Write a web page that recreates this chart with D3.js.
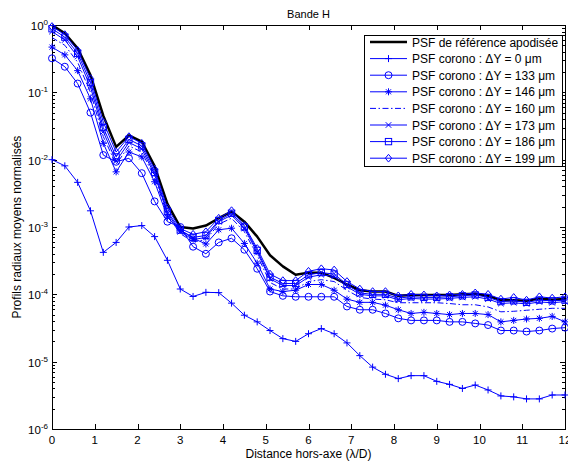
<!DOCTYPE html>
<html><head><meta charset="utf-8">
<script src="https://cdn.jsdelivr.net/npm/d3@7"></script>
<style>
body{margin:0;background:#fff;}
text{font-family:"Liberation Sans",Arial,sans-serif;}
</style></head>
<body><svg id="c" width="568" height="462"></svg>
<script>
const xs = [0,0.3,0.6,0.9,1.2,1.5,1.8,2.1,2.4,2.7,3.0,3.3,3.6,3.9,4.2,4.5,4.8,5.1,5.4,5.7,6.0,6.3,6.6,6.9,7.2,7.5,7.8,8.1,8.4,8.7,9.0,9.3,9.6,9.9,10.2,10.5,10.8,11.1,11.4,11.7,12.0];
const refApod = [1.0,0.75,0.45,0.18,0.045,0.0155,0.023,0.0185,0.008,0.0022,0.001,9.5e-4,1.05e-3,1.35e-3,1.7e-3,1.2e-3,7.2e-4,3.8e-4,2.6e-4,1.95e-4,2.1e-4,2.1e-4,1.75e-4,1.4e-4,1.15e-4,1.1e-4,1.1e-4,9.5e-5,9.8e-5,9.8e-5,9.8e-5,9.8e-5,1.0e-4,1.02e-4,9.5e-5,8.2e-5,8.2e-5,8.0e-5,8.7e-5,8.3e-5,8.5e-5];
const dy0 = [1.0e-2,8.1e-3,4.6e-3,1.74e-3,4.2e-4,5.9e-4,1.0e-3,1.05e-3,7.2e-4,3.2e-4,1.2e-4,9.3e-5,1.07e-4,1.06e-4,7.4e-5,4.9e-5,3.9e-5,2.9e-5,2.2e-5,2.0e-5,2.6e-5,3.1e-5,2.6e-5,1.9e-5,1.23e-5,8.3e-6,6.5e-6,5.6e-6,6.2e-6,6.2e-6,5.1e-6,4.6e-6,4.0e-6,4.5e-6,3.8e-6,3.1e-6,3.0e-6,2.8e-6,2.8e-6,3.2e-6,3.2e-6];
const dy133 = [0.32,0.24,0.135,0.05,0.0117,9.3e-3,0.0105,6.3e-3,2.4e-3,1.2e-3,1.0e-3,5.1e-4,4.0e-4,5.9e-4,6.8e-4,4.6e-4,2.4e-4,1.1e-4,9.5e-5,9.2e-5,9.2e-5,9.2e-5,9.2e-5,6.6e-5,5.9e-5,5.9e-5,5.2e-5,4.4e-5,4.1e-5,4.1e-5,4.1e-5,3.9e-5,3.9e-5,3.7e-5,3.5e-5,2.9e-5,2.9e-5,2.8e-5,2.9e-5,3.1e-5,3.2e-5];
const dy146 = [0.47,0.36,0.21,0.08,0.0175,6.6e-3,0.013,0.011,4.7e-3,1.4e-3,9.0e-4,6.8e-4,5.6e-4,9.1e-4,9.6e-4,5.7e-4,2.9e-4,1.2e-4,1.1e-4,1.15e-4,1.4e-4,1.4e-4,1.15e-4,8.5e-5,7.6e-5,7.6e-5,6.9e-5,5.9e-5,5.2e-5,5.4e-5,5.2e-5,5.0e-5,5.2e-5,5.2e-5,5.0e-5,3.9e-5,4.1e-5,4.3e-5,4.4e-5,4.7e-5,3.9e-5];
const dy160 = [0.65,0.5,0.28,0.1,0.022,8.5e-3,0.016,0.013,5.5e-3,1.5e-3,8.0e-4,6.0e-4,6.5e-4,1.1e-3,1.35e-3,8.5e-4,3.8e-4,1.5e-4,1.2e-4,1.2e-4,1.55e-4,1.65e-4,1.55e-4,1.15e-4,9.0e-5,8.5e-5,8.3e-5,7.5e-5,7.5e-5,7.5e-5,7.5e-5,7.3e-5,7.0e-5,7.0e-5,6.5e-5,5.5e-5,5.6e-5,5.8e-5,6.0e-5,6.2e-5,6.2e-5];
const dy173 = [0.8,0.6,0.34,0.12,0.026,9.5e-3,0.018,0.0145,6.0e-3,1.6e-3,8.5e-4,6.5e-4,7.0e-4,1.2e-3,1.5e-3,9.5e-4,4.2e-4,1.7e-4,1.35e-4,1.35e-4,1.8e-4,1.95e-4,1.85e-4,1.3e-4,1.0e-4,9.5e-5,9.5e-5,8.3e-5,8.7e-5,8.5e-5,8.5e-5,8.7e-5,9.0e-5,9.2e-5,8.5e-5,7.3e-5,7.5e-5,7.2e-5,7.7e-5,7.5e-5,7.8e-5];
const dy186 = [0.88,0.66,0.38,0.14,0.03,0.011,0.02,0.016,6.5e-3,1.7e-3,9.0e-4,7.0e-4,7.5e-4,1.25e-3,1.6e-3,1.0e-3,4.5e-4,1.8e-4,1.45e-4,1.45e-4,1.95e-4,2.1e-4,2.0e-4,1.4e-4,1.05e-4,1.0e-4,1.0e-4,8.8e-5,9.2e-5,9.0e-5,9.0e-5,9.2e-5,9.5e-5,9.8e-5,9.0e-5,7.8e-5,8.0e-5,7.6e-5,8.2e-5,8.0e-5,8.2e-5];
const dy199 = [0.95,0.72,0.42,0.16,0.036,0.013,0.022,0.0175,7.2e-3,1.9e-3,9.5e-4,7.8e-4,8.5e-4,1.35e-3,1.75e-3,1.05e-3,4.8e-4,2.0e-4,1.6e-4,1.6e-4,2.2e-4,2.4e-4,2.3e-4,1.55e-4,1.2e-4,1.1e-4,1.1e-4,9.5e-5,1.0e-4,9.8e-5,9.5e-5,9.8e-5,1.0e-4,1.05e-4,1.0e-4,8.5e-5,9.0e-5,8.2e-5,9.2e-5,8.8e-5,9.2e-5];
const legendLabels = ["PSF de référence apodisée","PSF corono : \u0394Y = 0 \u03bcm","PSF corono : \u0394Y = 133 \u03bcm","PSF corono : \u0394Y = 146 \u03bcm","PSF corono : \u0394Y = 160 \u03bcm","PSF corono : \u0394Y = 173 \u03bcm","PSF corono : \u0394Y = 186 \u03bcm","PSF corono : \u0394Y = 199 \u03bcm"];
const xTicks = [0,1,2,3,4,5,6,7,8,9,10,11,12];
const yExps = [0,-1,-2,-3,-4,-5,-6];
const titleText = "Bande H";
const xLabel = "Distance hors-axe (\u03bb/D)";
const yLabel = "Profils radiaux moyens normalisés";

const series = [
  {v: refApod, color:"#000", w:2.5, marker:null, dash:null},
  {v: dy0, color:"#00f", w:1, marker:"plus", dash:null},
  {v: dy133, color:"#00f", w:1, marker:"circle", dash:null},
  {v: dy146, color:"#00f", w:1, marker:"star", dash:null},
  {v: dy160, color:"#00f", w:1, marker:null, dash:"6,2.5,1.5,2.5"},
  {v: dy173, color:"#00f", w:1, marker:"x", dash:null},
  {v: dy186, color:"#00f", w:1, marker:"square", dash:null},
  {v: dy199, color:"#00f", w:1, marker:"diamond", dash:null}
];

const L=52, T=25, R=565, B=429;
const svg = d3.select("#c");
const x = d3.scaleLinear().domain([0,12]).range([L,R]);
const y = d3.scaleLog().domain([1e-6,1]).range([B,T]);

svg.append("rect").attr("x",L).attr("y",T).attr("width",R-L).attr("height",B-T)
  .attr("fill","none").attr("stroke","#000").attr("stroke-width",1).attr("shape-rendering","crispEdges");

const tk = 5, tkm = 3;
const g = svg.append("g").attr("stroke","#000").attr("stroke-width",1).attr("shape-rendering","crispEdges");
xTicks.forEach(t=>{
  const px = Math.round(x(t))+0.5;
  g.append("line").attr("x1",px).attr("x2",px).attr("y1",B).attr("y2",B-tk);
  g.append("line").attr("x1",px).attr("x2",px).attr("y1",T).attr("y2",T+tk);
});
yExps.forEach(e=>{
  const py = Math.round(y(Math.pow(10,e)))+0.5;
  g.append("line").attr("x1",L).attr("x2",L+tk).attr("y1",py).attr("y2",py);
  g.append("line").attr("x1",R).attr("x2",R-tk).attr("y1",py).attr("y2",py);
  if(e>-6){
    for(let m=2;m<=9;m++){
      const pm = Math.round(y(m*Math.pow(10,e-1)))+0.5;
      g.append("line").attr("x1",L).attr("x2",L+tkm).attr("y1",pm).attr("y2",pm);
      g.append("line").attr("x1",R).attr("x2",R-tkm).attr("y1",pm).attr("y2",pm);
    }
  }
});
svg.selectAll(".xt").data(xTicks).enter().append("text")
  .attr("x",d=>x(d)).attr("y",B+15).attr("text-anchor","middle")
  .attr("font-size",11.5).text(d=>d);
yExps.forEach(e=>{
  const t = svg.append("text").attr("x",L-4).attr("y",y(Math.pow(10,e))+5).attr("text-anchor","end").attr("font-size",11.5);
  t.append("tspan").text("10");
  t.append("tspan").attr("dy",-5).attr("font-size",8).text(e);
});
svg.append("text").attr("x",(L+R)/2).attr("y",T-7).attr("text-anchor","middle").attr("font-size",11).text(titleText);
svg.append("text").attr("x",(L+R)/2).attr("y",458).attr("text-anchor","middle").attr("font-size",12).text(xLabel);
svg.append("text").attr("transform",`translate(21,${(T+B)/2}) rotate(-90)`).attr("text-anchor","middle").attr("font-size",12).text(yLabel);

function drawMarker(sel, type, cx, cy, color){
  const s = 3.5;
  const gg = sel.append("g").attr("stroke",color).attr("fill","none").attr("stroke-width",1);
  if(type==="plus"){
    gg.append("path").attr("d",`M${cx-s},${cy}H${cx+s}M${cx},${cy-s}V${cy+s}`);
  } else if(type==="circle"){
    gg.append("circle").attr("cx",cx).attr("cy",cy).attr("r",s);
  } else if(type==="star"){
    const d=s*0.72;
    gg.append("path").attr("d",`M${cx-s},${cy}H${cx+s}M${cx},${cy-s}V${cy+s}M${cx-d},${cy-d}L${cx+d},${cy+d}M${cx-d},${cy+d}L${cx+d},${cy-d}`);
  } else if(type==="x"){
    const d=s*0.8;
    gg.append("path").attr("d",`M${cx-d},${cy-d}L${cx+d},${cy+d}M${cx-d},${cy+d}L${cx+d},${cy-d}`);
  } else if(type==="square"){
    gg.append("rect").attr("x",cx-s*0.9).attr("y",cy-s*0.9).attr("width",s*1.8).attr("height",s*1.8);
  } else if(type==="diamond"){
    gg.append("path").attr("d",`M${cx},${cy-s*1.1}L${cx+s*0.9},${cy}L${cx},${cy+s*1.1}L${cx-s*0.9},${cy}Z`);
  }
}

const line = d3.line().x((d,i)=>x(xs[i])).y(d=>y(d));
const plot = svg.append("g");
series.forEach(s=>{
  const p = plot.append("path").datum(s.v).attr("d",line).attr("fill","none")
    .attr("stroke",s.color).attr("stroke-width",s.w).attr("stroke-linejoin","round");
  if(s.dash) p.attr("stroke-dasharray",s.dash);
  if(s.marker) s.v.forEach((v,i)=>drawMarker(plot,s.marker,x(xs[i]),y(v),s.color));
});

const lg = svg.append("g");
lg.append("rect").attr("x",364.5).attr("y",35.5).attr("width",198).attr("height",131)
  .attr("fill","#fff").attr("stroke","#000").attr("stroke-width",1).attr("shape-rendering","crispEdges");
series.forEach((s,i)=>{
  const cy = 42 + i*16.6;
  const p = lg.append("line").attr("x1",370).attr("x2",407).attr("y1",cy).attr("y2",cy)
    .attr("stroke",s.color).attr("stroke-width",s.w);
  if(s.dash) p.attr("stroke-dasharray",s.dash);
  if(s.marker) drawMarker(lg,s.marker,388.5,cy,s.color);
  lg.append("text").attr("x",412).attr("y",cy+4.5).attr("font-size",12).text(legendLabels[i]);
});
</script></body></html>
